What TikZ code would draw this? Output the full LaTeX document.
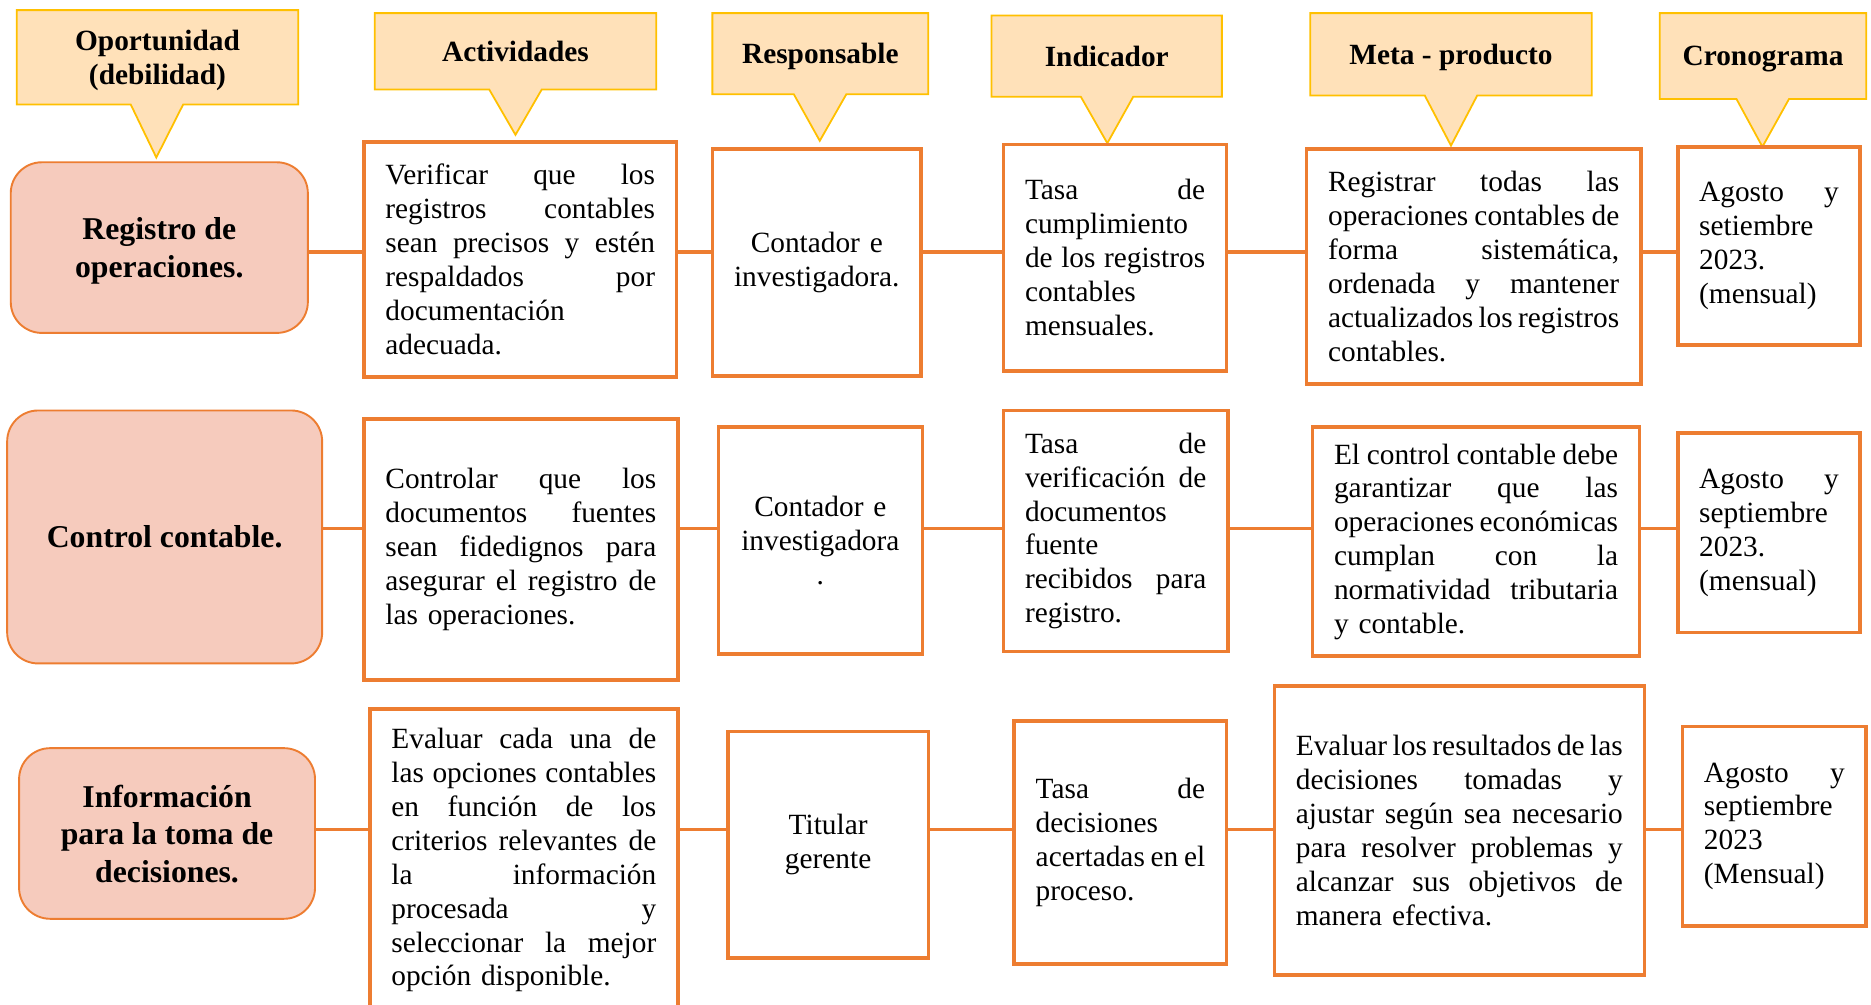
\documentclass[tikz,border=0pt]{standalone}
\usepackage{fontspec}
\setmainfont{Liberation Serif}
\usetikzlibrary{shapes.callouts}

\definecolor{hdfill}{HTML}{FFE1B9}
\definecolor{hdline}{HTML}{FFC000}
\definecolor{orng}{HTML}{ED7D31}
\definecolor{lfill}{HTML}{F6CBBD}

\setlength{\parindent}{0pt}
\newcommand{\jl}[1]{\makebox[\hsize][s]{\spaceskip=0pt\xspaceskip=0pt\relax #1}}
\newcommand{\bodyfont}{\fontsize{24.6}{28.4}\selectfont}
\newcommand{\headfont}{\fontsize{24.6}{29}\selectfont\bfseries}
\newcommand{\leftfont}{\fontsize{26.6}{31.5}\selectfont\bfseries}

\begin{document}
\begin{tikzpicture}[x=1pt,y=-1pt,
    head/.style={rectangle callout, draw=hdline, fill=hdfill, line width=1.5pt,
      callout pointer width=44pt, font=\headfont, align=center, inner sep=0pt,
      text depth=0pt},
    opor/.style={draw=orng, fill=lfill, rounded corners=26pt, line width=1.6pt,
      font=\leftfont, align=center, inner sep=0pt, text depth=0pt},
    cell/.style={draw=orng, fill=white, line width=3pt, font=\bodyfont,
      inner sep=0pt},
    mid/.style={cell, align=center},
    link/.style={orng, line width=3pt}]
    \useasboundingbox (0,0) rectangle (1568,842);
    \clip (0,0) rectangle (1568,842);

    % headers
    \node[head, minimum width=236pt, minimum height=79pt, callout absolute pointer={(131,132)}] (hOpor) at (132,48) {Oportunidad\\(debilidad)};
    \node[head, minimum width=236pt, minimum height=64pt, callout absolute pointer={(432,113)}] (hAct) at (432,43) {Actividades};
    \node[head, minimum width=181pt, minimum height=68pt, callout absolute pointer={(687,118)}] (hResp) at (687.5,45) {Responsable};
    \node[head, minimum width=193pt, minimum height=68pt, callout absolute pointer={(928,120)}] (hInd) at (927.5,47) {Indicador};
    \node[head, minimum width=236pt, minimum height=69pt, callout absolute pointer={(1216,122)}] (hMeta) at (1216,45.5) {Meta - producto};
    \node[head, minimum width=173pt, minimum height=72pt, callout absolute pointer={(1477,123)}] (hCron) at (1477.5,47) {Cronograma};

    % fila 1
    \node[opor, minimum width=249pt, minimum height=143pt] (opor1) at (133.5,207.5) {Registro de\\operaciones.};
    \node[cell, minimum width=262pt, minimum height=197pt, text width=226pt] (act1) at (436,217.5)
      {\jl{Verificar que los}\\\jl{registros contables}\\\jl{sean precisos y estén}\\\jl{respaldados por}\\documentación\\adecuada.};
    \node[mid, minimum width=175pt, minimum height=190pt, text width=139pt] (resp1) at (684.5,220) {Contador e\\investigadora.};
    \node[cell, minimum width=187pt, minimum height=190pt, text width=151pt] (ind1) at (934.5,216)
      {\jl{Tasa de}\\cumplimiento\\\jl{de los registros}\\contables\\mensuales.};
    \node[cell, minimum width=280pt, minimum height=197pt, text width=244pt] (meta1) at (1235,223.5)
      {\jl{Registrar todas las}\\\jl{operaciones contables de}\\\jl{forma sistemática,}\\\jl{ordenada y mantener}\\\jl{actualizados los registros}\\contables.};
    \node[cell, minimum width=153pt, minimum height=166pt, text width=117pt] (cron1) at (1482.5,206)
      {\jl{Agosto y}\\setiembre\\2023.\\(mensual)};

    % fila 2
    \node[opor, minimum width=264pt, minimum height=212pt] (opor2) at (138,450) {Control contable.};
    \node[cell, minimum width=263pt, minimum height=219pt, text width=227pt] (act2) at (436.5,460.5)
      {\jl{Controlar que los}\\\jl{documentos fuentes}\\\jl{sean fidedignos para}\\\jl{asegurar el registro de}\\las operaciones.};
    \node[mid, minimum width=171pt, minimum height=190pt, text width=135pt] (resp2) at (687.5,453) {Contador e\\investigadora\\.};
    \node[cell, minimum width=188pt, minimum height=202pt, text width=152pt] (ind2) at (935,445)
      {\jl{Tasa de}\\\jl{verificación de}\\documentos\\fuente\\\jl{recibidos para}\\registro.};
    \node[cell, minimum width=274pt, minimum height=192pt, text width=238pt] (meta2) at (1237,454)
      {\jl{El control contable debe}\\\jl{garantizar que las}\\\jl{operaciones económicas}\\\jl{cumplan con la}\\\jl{normatividad tributaria}\\y contable.};
    \node[cell, minimum width=153pt, minimum height=167pt, text width=117pt] (cron2) at (1482.5,446.5)
      {\jl{Agosto y}\\septiembre\\2023.\\(mensual)};

    % fila 3
    \node[opor, minimum width=248pt, minimum height=143pt] (opor3) at (140,698.5) {Información\\para la toma de\\decisiones.};
    \node[cell, minimum width=258pt, minimum height=254pt, text width=222pt] (act3) at (439,721)
      {\jl{Evaluar cada una de}\\\jl{las opciones contables}\\\jl{en función de los}\\\jl{criterios relevantes de}\\\jl{la información}\\\jl{procesada y}\\\jl{seleccionar la mejor}\\opción disponible.};
    \node[mid, minimum width=168pt, minimum height=190pt, text width=132pt] (resp3) at (694,708) {Titular\\gerente};
    \node[cell, minimum width=178pt, minimum height=204pt, text width=142pt] (ind3) at (939,706)
      {\jl{Tasa de}\\decisiones\\\jl{acertadas en el}\\proceso.};
    \node[cell, minimum width=310pt, minimum height=242pt, text width=274pt] (meta3) at (1223,696)
      {\jl{Evaluar los resultados de las}\\\jl{decisiones tomadas y}\\\jl{ajustar según sea necesario}\\\jl{para resolver problemas y}\\\jl{alcanzar sus objetivos de}\\manera efectiva.};
    \node[cell, minimum width=154pt, minimum height=167pt, text width=118pt] (cron3) at (1487,692.5)
      {\jl{Agosto y}\\septiembre\\2023\\(Mensual)};

    % conectores
    \coordinate (row1) at (0,211);
    \coordinate (row2) at (0,443);
    \coordinate (row3) at (0,695);
    \foreach \r in {1,2,3} {
      \draw[link] (opor\r.east |- row\r) -- (act\r.west |- row\r);
      \draw[link] (act\r.east |- row\r) -- (resp\r.west |- row\r);
      \draw[link] (resp\r.east |- row\r) -- (ind\r.west |- row\r);
      \draw[link] (ind\r.east |- row\r) -- (meta\r.west |- row\r);
      \draw[link] (meta\r.east |- row\r) -- (cron\r.west |- row\r);
    }
\end{tikzpicture}
\end{document}
